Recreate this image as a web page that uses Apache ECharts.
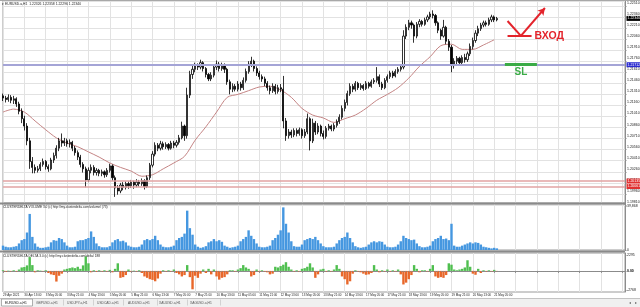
<!DOCTYPE html>
<html><head><meta charset="utf-8">
<script src="https://cdn.jsdelivr.net/npm/echarts@6/dist/echarts.min.js"></script>
<style>html,body{margin:0;padding:0;background:#fff}#c{width:640px;height:307px}</style>
</head><body><div id="c"></div>
<script>
// ---------- data (2-hour bars) ----------
const timeLabels = ['29 Apr 2021','30 Apr 13:00','3 May 05:00','3 May 21:00','4 May 13:00','5 May 05:00','5 May 21:00','6 May 13:00','7 May 05:00','7 May 21:00','10 May 13:00','11 May 05:00','11 May 21:00','12 May 13:00','13 May 05:00','13 May 21:00','14 May 13:00','17 May 05:00','17 May 21:00','18 May 13:00','19 May 05:00','19 May 21:00','20 May 13:00','21 May 05:00'];
const slotCount = 234;
const labelEvery = 8;

const openP = [
1.2129,1.2126,1.2124,1.2127,1.2123,1.2125,1.2118,1.2108,1.2098,1.2088,
1.2068,1.2040,1.2032,1.2028,1.2030,1.2036,1.2040,1.2033,1.2030,1.2042,
1.2048,1.2058,1.2068,1.2065,1.2068,1.2064,1.2066,1.2058,1.2052,1.2046,
1.2036,1.2030,1.2015,1.2028,1.2032,1.2025,1.2028,1.2024,1.2026,1.2022,
1.2028,1.2034,1.2018,1.2004,1.2000,1.2008,1.2005,1.2010,1.2007,1.2012,
1.2008,1.2012,1.2010,1.2014,1.2006,1.2018,1.2035,1.2050,1.2062,1.2058,
1.2064,1.2060,1.2063,1.2058,1.2065,1.2062,1.2066,1.2072,1.2088,1.2075,
1.2130,1.2158,1.2165,1.2170,1.2168,1.2174,1.2166,1.2158,1.2152,1.2157,
1.2168,1.2172,1.2166,1.2170,1.2165,1.2148,1.2138,1.2142,1.2138,1.2145,
1.2140,1.2150,1.2162,1.2172,1.2176,1.2166,1.2160,1.2155,1.2152,1.2146,
1.2140,1.2136,1.2142,1.2135,1.2140,1.2138,1.2095,1.2075,1.2080,1.2076,
1.2082,1.2078,1.2083,1.2075,1.2080,1.2098,1.2068,1.2092,1.2080,1.2088,
1.2078,1.2074,1.2085,1.2088,1.2084,1.2089,1.2094,1.2100,1.2112,1.2120,
1.2132,1.2142,1.2138,1.2146,1.2140,1.2143,1.2139,1.2146,1.2142,1.2148,
1.2150,1.2155,1.2145,1.2140,1.2150,1.2155,1.2160,1.2156,1.2162,1.2165,
1.2168,1.2210,1.2222,1.2228,1.2225,1.2210,1.2226,1.2230,1.2226,1.2232,
1.2236,1.2240,1.2238,1.2228,1.2218,1.2210,1.2222,1.2203,1.2195,1.2170,
1.2176,1.2180,1.2174,1.2181,1.2178,1.2186,1.2196,1.2204,1.2214,1.2220,
1.2225,1.2228,1.2226,1.2232,1.2236,1.2232];
const closeP = [
1.2126,1.2124,1.2127,1.2123,1.2125,1.2118,1.2108,1.2098,1.2088,1.2068,
1.2040,1.2032,1.2028,1.2030,1.2036,1.2040,1.2033,1.2030,1.2042,1.2048,
1.2058,1.2068,1.2065,1.2068,1.2064,1.2066,1.2058,1.2052,1.2046,1.2036,
1.2030,1.2015,1.2028,1.2032,1.2025,1.2028,1.2024,1.2026,1.2022,1.2028,
1.2034,1.2018,1.2004,1.2000,1.2008,1.2005,1.2010,1.2007,1.2012,1.2008,
1.2012,1.2010,1.2014,1.2006,1.2018,1.2035,1.2050,1.2062,1.2058,1.2064,
1.2060,1.2063,1.2058,1.2065,1.2062,1.2066,1.2072,1.2088,1.2075,1.2130,
1.2158,1.2165,1.2170,1.2168,1.2174,1.2166,1.2158,1.2152,1.2157,1.2168,
1.2172,1.2166,1.2170,1.2165,1.2148,1.2138,1.2142,1.2138,1.2145,1.2140,
1.2150,1.2162,1.2172,1.2176,1.2166,1.2160,1.2155,1.2152,1.2146,1.2140,
1.2136,1.2142,1.2135,1.2140,1.2138,1.2095,1.2075,1.2080,1.2076,1.2082,
1.2078,1.2083,1.2075,1.2080,1.2098,1.2068,1.2092,1.2080,1.2088,1.2078,
1.2074,1.2085,1.2088,1.2084,1.2089,1.2094,1.2100,1.2112,1.2120,1.2132,
1.2142,1.2138,1.2146,1.2140,1.2143,1.2139,1.2146,1.2142,1.2148,1.2150,
1.2155,1.2145,1.2140,1.2150,1.2155,1.2160,1.2156,1.2162,1.2165,1.2168,
1.2210,1.2222,1.2228,1.2225,1.2210,1.2226,1.2230,1.2226,1.2232,1.2236,
1.2240,1.2238,1.2228,1.2218,1.2210,1.2222,1.2203,1.2195,1.2170,1.2176,
1.2180,1.2174,1.2181,1.2178,1.2186,1.2196,1.2204,1.2214,1.2220,1.2225,
1.2228,1.2226,1.2232,1.2236,1.2232,1.2234];
const lowP = [
1.2122,1.2120,1.2121,1.2119,1.2118,1.2114,1.2104,1.2092,1.2082,1.2062,
1.2030,1.2024,1.2024,1.2025,1.2027,1.2033,1.2029,1.2026,1.2028,1.2038,
1.2044,1.2054,1.2060,1.2061,1.2060,1.2059,1.2054,1.2048,1.2042,1.2032,
1.2025,1.2005,1.2012,1.2024,1.2021,1.2021,1.2020,1.2020,1.2018,1.2019,
1.2025,1.2014,1.1992,1.1995,1.1997,1.2001,1.2002,1.2003,1.2004,1.2003,
1.2005,1.2006,1.2007,1.2002,1.2004,1.2015,1.2032,1.2047,1.2054,1.2055,
1.2056,1.2057,1.2055,1.2056,1.2058,1.2059,1.2063,1.2070,1.2068,1.2071,
1.2126,1.2152,1.2161,1.2164,1.2165,1.2162,1.2154,1.2149,1.2149,1.2154,
1.2164,1.2162,1.2163,1.2160,1.2144,1.2131,1.2134,1.2135,1.2135,1.2136,
1.2137,1.2147,1.2159,1.2168,1.2162,1.2156,1.2151,1.2148,1.2142,1.2136,
1.2131,1.2133,1.2131,1.2132,1.2134,1.2085,1.2068,1.2071,1.2072,1.2073,
1.2074,1.2075,1.2071,1.2072,1.2077,1.2055,1.2065,1.2076,1.2077,1.2074,
1.2070,1.2071,1.2082,1.2081,1.2081,1.2086,1.2091,1.2097,1.2108,1.2116,
1.2129,1.2134,1.2135,1.2137,1.2137,1.2136,1.2137,1.2139,1.2140,1.2145,
1.2147,1.2141,1.2137,1.2138,1.2147,1.2152,1.2153,1.2154,1.2159,1.2162,
1.2165,1.2206,1.2218,1.2220,1.2201,1.2207,1.2222,1.2223,1.2224,1.2229,
1.2233,1.2234,1.2224,1.2214,1.2205,1.2208,1.2199,1.2190,1.2161,1.2166,
1.2172,1.2171,1.2172,1.2174,1.2175,1.2183,1.2192,1.2201,1.2210,1.2217,
1.2222,1.2223,1.2224,1.2229,1.2229,1.2230];
const highP = [
1.2132,1.2129,1.2131,1.2130,1.2129,1.2127,1.2121,1.2112,1.2102,1.2092,
1.2072,1.2046,1.2036,1.2034,1.2039,1.2044,1.2042,1.2036,1.2045,1.2052,
1.2062,1.2072,1.2078,1.2072,1.2071,1.2070,1.2068,1.2061,1.2055,1.2049,
1.2039,1.2033,1.2032,1.2036,1.2035,1.2031,1.2030,1.2029,1.2028,1.2031,
1.2037,1.2036,1.2021,1.2008,1.2011,1.2012,1.2013,1.2013,1.2015,1.2014,
1.2016,1.2015,1.2017,1.2016,1.2021,1.2038,1.2054,1.2066,1.2065,1.2068,
1.2067,1.2066,1.2065,1.2068,1.2068,1.2069,1.2076,1.2094,1.2090,1.2140,
1.2163,1.2170,1.2174,1.2173,1.2178,1.2176,1.2168,1.2160,1.2161,1.2172,
1.2177,1.2175,1.2174,1.2173,1.2167,1.2151,1.2146,1.2145,1.2149,1.2148,
1.2154,1.2166,1.2176,1.2182,1.2178,1.2169,1.2163,1.2158,1.2155,1.2149,
1.2143,1.2146,1.2145,1.2144,1.2145,1.2156,1.2099,1.2084,1.2083,1.2085,
1.2085,1.2086,1.2085,1.2084,1.2105,1.2100,1.2098,1.2095,1.2092,1.2090,
1.2082,1.2088,1.2091,1.2090,1.2092,1.2097,1.2104,1.2116,1.2124,1.2136,
1.2146,1.2145,1.2149,1.2148,1.2146,1.2145,1.2149,1.2148,1.2151,1.2153,
1.2168,1.2158,1.2148,1.2153,1.2158,1.2163,1.2163,1.2165,1.2168,1.2171,
1.2218,1.2226,1.2232,1.2231,1.2227,1.2229,1.2233,1.2232,1.2235,1.2239,
1.2243,1.2245,1.2240,1.2230,1.2220,1.2232,1.2224,1.2206,1.2198,1.2180,
1.2183,1.2182,1.2184,1.2186,1.2189,1.2200,1.2208,1.2218,1.2224,1.2228,
1.2231,1.2231,1.2235,1.2239,1.2238,1.2236];

const maBars   = [0,4,8,12,16,20,24,28,32,36,40,44,48,52,56,60,64,68,72,76,80,84,88,92,96,100,104,108,112,116,120,124,128,132,136,140,144,148,152,156,160,164,168,172,176,180,184];
const maValues = [1.2107,1.2111,1.2107,1.2095,1.2083,1.2072,1.2065,1.2060,1.2053,1.2046,1.2038,1.2032,1.2027,1.2020,1.2022,1.2030,1.2038,1.2047,1.2069,1.2087,1.2107,1.2127,1.2131,1.2136,1.2141,1.2142,1.2137,1.2127,1.2112,1.2103,1.2099,1.2093,1.2098,1.2103,1.2112,1.2123,1.2131,1.2140,1.2153,1.2169,1.2182,1.2197,1.2199,1.2192,1.2192,1.2198,1.2205];

const volume = [
4000,3000,
2500,2500,3000,3500,6000,9000,10000,16000,33000,12000,6000,3000,
2000,2000,2500,3000,7000,9000,8500,11000,10000,7000,4000,2500,
2500,3000,8000,9000,9000,10000,11000,17000,12000,6000,3500,2500,
2500,2500,3500,7000,9000,10000,8000,8500,7000,4000,3000,2500,
2500,3000,5000,9000,10000,9000,10000,13000,9000,5000,3000,2500,
2500,3000,4000,9000,11000,12000,15000,36000,20000,14000,5000,3000,
2000,2500,3500,7000,8000,10000,8000,9000,7500,4000,3000,2000,
2500,3000,4000,8000,10000,12000,18000,13000,10000,6000,3000,2500,
2500,3000,4000,9000,11000,14000,18000,39000,24000,16000,8000,3500,
3000,3000,5000,9000,10000,11000,10000,12000,9000,6000,3500,2500,
2500,2500,3000,6000,9000,11000,12000,16000,11000,7000,3500,2500,
2000,2500,3000,5000,7000,8000,7000,8000,7500,5000,3000,2500,
2500,3000,5000,8000,13000,11000,10000,9000,9500,6000,3500,2500,
2500,3000,4000,8000,10000,11000,13000,10000,10500,9000,24000,4000,
3000,3000,4000,5000,6000,7000,6000,7000,6500,5000,3000,2500,
2000,1500,2000,1500];
const delta = [
100,-150,
50,-80,100,-100,200,500,560,800,2000,840,-200,100,
50,-50,100,-300,-500,-600,-1540,-700,-400,200,300,400,
500,400,600,300,800,2100,1100,-200,100,-150,100,-100,
100,-100,150,-200,300,1100,-1000,-900,-600,200,-100,50,
-100,100,-300,-800,-1000,-1200,-1300,-1500,-1100,-400,100,-100,
100,-100,200,-300,-500,-800,-600,840,-900,-2660,-700,-1000,
-400,200,-300,300,-500,200,-800,-1260,-1000,-900,-500,100,
100,-100,200,400,840,500,300,-800,-600,200,-100,100,
-100,-200,-500,-400,600,500,700,900,1260,600,200,-100,
100,-100,300,400,600,1100,500,-1000,-500,200,300,-100,
100,-100,200,840,300,-800,-1200,-1960,-1500,-400,100,-100,
-200,-400,-560,-500,-300,840,200,-200,100,-100,200,-100,
100,-100,200,-500,-1960,-1700,-1200,-600,840,300,-200,100,
100,-100,300,840,-800,-1000,-900,-1000,-600,1100,900,200,
100,200,300,500,1540,600,-400,-560,300,-300,100,-100,
100,-100,150,-50];

const priceMin = 1.1981, priceMax = 1.22576, priceStep = 0.0015;
const volumeMax = 43000, volumeTicks = [0, 39868];
const deltaMin = -3050, deltaMax = 2590, deltaTicks = [-2768, 0, 2295];
const levelBlue = 1.21712;
const levelRed = [1.20135, 1.20061];
const entryArrow = [[189, 1.22305], [194, 1.22102], [203, 1.22481]];
const entryBase = [[189, 1.22102], [198, 1.22102]];
const slLine = [[188, 1.21712], [200, 1.21712]];
const entryTextAt = [198, 1.22102];
const slTextAt = [194, 1.21613];
const tabs = ['EURUSD.a,H1','GBPUSD.a,H1','USDJPY.a,H1','USDCAD.a,H1','AUDUSD.a,H1','XAUUSD.a,H1','XAGUSD.a,H1'];
const headerText = '\u25BE EURUSD.a,H1  1.22326 1.22358 1.22296 1.22340';
const volTitle = 'CLUSTERDELTA VOLUME 3.0 (c) http://my.clusterdelta.com/volume/ (73)';
const deltaTitle = 'CLUSTERDELTA DELTA 3.0 (c) http://my.clusterdelta.com/delta/ 188';

// ---------- chart ----------
const FONT = '"Liberation Sans", Arial, sans-serif';
const RED = '#e3232b', GREEN = '#3aab46';
const cats = Array.from({length: slotCount}, (_, i) => String(i));
const candleData = openP.map((o, i) => [o, closeP[i], lowP[i], highP[i]]);
const maData = maBars.map((b, i) => [b, maValues[i]]);
const lastPrice = closeP[closeP.length - 1];

function xAx(g, labels) {
  return {
    type: 'category', gridIndex: g, data: cats, boundaryGap: false,
    axisLine: {show: labels, lineStyle: {color: '#8c8c8c', width: 1}},
    axisTick: {show: labels, interval: labelEvery - 1, length: 2, lineStyle: {color: '#8c8c8c'}},
    axisLabel: {show: labels, interval: labelEvery - 1, fontSize: 3, color: '#222', margin: 1.5,
      align: 'left', fontFamily: FONT,
      formatter: (v, i) => (i % labelEvery === 0 && timeLabels[i / labelEvery]) || ''},
    splitLine: {show: true, interval: labelEvery - 1, lineStyle: {color: '#e2e2e2', width: 1}}
  };
}
const boxLabel = (bg, txt) => ({show: true, position: 'end', distance: 1.5, formatter: txt,
  backgroundColor: bg, color: '#fff', fontSize: 3.5, fontFamily: FONT, padding: [0.6, 1, 0.4, 1]});

const option = {
  animation: false,
  textStyle: {fontFamily: FONT},
  grid: [
    {left: 3, right: 15, top: 1, height: 204, show: true, borderColor: '#9a9a9a', borderWidth: 1, outerBoundsMode: 'none'},
    {left: 3, right: 15, top: 203, height: 47, show: true, borderColor: '#9a9a9a', borderWidth: 1, outerBoundsMode: 'none'},
    {left: 3, right: 15, top: 253, height: 39, show: true, borderColor: '#9a9a9a', borderWidth: 1, outerBoundsMode: 'none'}
  ],
  xAxis: [xAx(0, false), xAx(1, false), xAx(2, true)],
  yAxis: [
    {type: 'value', gridIndex: 0, position: 'right', min: priceMin, max: priceMax, interval: priceStep,
      axisLine: {show: true, lineStyle: {color: '#8c8c8c'}},
      axisTick: {show: true, length: 1.5, lineStyle: {color: '#8c8c8c'}},
      axisLabel: {fontSize: 3.5, color: '#222', margin: 2, verticalAlign: 'bottom', padding: [0, 0, 1, 0],
        showMaxLabel: false, fontFamily: FONT, formatter: v => v.toFixed(5)},
      splitLine: {show: true, lineStyle: {color: '#e2e2e2', width: 1}}},
    {type: 'value', gridIndex: 1, position: 'right', min: 0, max: volumeMax,
      axisLine: {show: true, lineStyle: {color: '#8c8c8c'}},
      axisTick: {show: true, length: 1.5, customValues: volumeTicks},
      axisLabel: {fontSize: 3.5, color: '#222', margin: 2, fontFamily: FONT, customValues: volumeTicks},
      splitLine: {show: false}},
    {type: 'value', gridIndex: 2, position: 'right', min: deltaMin, max: deltaMax,
      axisLine: {show: true, lineStyle: {color: '#8c8c8c'}},
      axisTick: {show: true, length: 1.5, customValues: deltaTicks},
      axisLabel: {fontSize: 3.5, color: '#222', margin: 2, fontFamily: FONT, customValues: deltaTicks,
        formatter: v => v === 0 ? '{b|0.00}' : String(v), rich: {b: {fontSize: 3.5, fontWeight: 'bold', color: '#000'}}},
      splitLine: {show: false}}
  ],
  series: [
    {type: 'candlestick', xAxisIndex: 0, yAxisIndex: 0, data: candleData, barWidth: '62%',
      itemStyle: {color: '#ffffff', color0: '#000000', borderColor: '#000000', borderColor0: '#000000', borderWidth: 0.8},
      markLine: {silent: true, animation: false, precision: 5, symbol: ['none', 'none'],
        data: [
          {yAxis: levelBlue, lineStyle: {color: '#a4a4d6', width: 2, type: 'solid'}, label: boxLabel('#2b2bd0', levelBlue.toFixed(5))},
          {yAxis: levelRed[0], lineStyle: {color: '#e2a3a3', width: 1.5, type: 'solid'}, label: boxLabel('#e03131', levelRed[0].toFixed(5))},
          {yAxis: levelRed[1], lineStyle: {color: '#e2a3a3', width: 1.5, type: 'solid'}, label: boxLabel('#e03131', levelRed[1].toFixed(5))},
          {yAxis: lastPrice, lineStyle: {color: 'rgba(0,0,0,0)', width: 1}, label: boxLabel('#000000', lastPrice.toFixed(5))},
          [{coord: entryArrow[0], symbol: 'none', lineStyle: {color: RED, width: 2, type: 'solid'}, label: {show: false}}, {coord: entryArrow[1], symbol: 'none'}],
          [{coord: entryArrow[1], symbol: 'none', lineStyle: {color: RED, width: 2, type: 'solid'}, label: {show: false}}, {coord: entryArrow[2], symbol: 'arrow', symbolSize: [6, 7]}],
          [{coord: entryBase[0], symbol: 'none', lineStyle: {color: RED, width: 2, type: 'solid'}, label: {show: false}}, {coord: entryBase[1], symbol: 'none'}],
          [{coord: slLine[0], symbol: 'none', lineStyle: {color: GREEN, width: 3, type: 'solid'}, label: {show: false}}, {coord: slLine[1], symbol: 'none'}]
        ]},
      markPoint: {silent: true, animation: false, symbol: 'circle', symbolSize: 0.1,
        itemStyle: {color: 'rgba(0,0,0,0)'},
        data: [
          {coord: entryTextAt, label: {show: true, position: 'right', distance: 3, formatter: 'ВХОД', color: RED, fontSize: 10.5, fontWeight: 'bold', fontFamily: FONT}},
          {coord: slTextAt, label: {show: true, position: 'inside', formatter: 'SL', color: GREEN, fontSize: 10, fontWeight: 'bold', fontFamily: FONT}}
        ]}
    },
    {type: 'line', xAxisIndex: 0, yAxisIndex: 0, data: maData, showSymbol: false, smooth: 0.3,
      lineStyle: {color: '#c48484', width: 1}, z: 1},
    {type: 'bar', xAxisIndex: 1, yAxisIndex: 1, data: volume, barWidth: '90%',
      itemStyle: {color: '#4597e0'}},
    {type: 'bar', xAxisIndex: 2, yAxisIndex: 2, data: delta, barWidth: '90%',
      itemStyle: {color: p => p.value >= 0 ? '#4fbf4f' : '#e8672a'},
      markLine: {silent: true, animation: false, symbol: ['none', 'none'], label: {show: false},
        data: [{yAxis: 0}], lineStyle: {color: '#8a8a8a', type: 'dotted', width: 1}}}
  ],
  graphic: [
    {type: 'rect', shape: {x: 0, y: 0, width: 640, height: 1}, style: {fill: '#a8a8a8'}, z: 100},
    {type: 'rect', shape: {x: 0, y: 202.5, width: 625, height: 2}, style: {fill: '#8a8a8a'}, z: 100},
    {type: 'rect', shape: {x: 0, y: 250.5, width: 625, height: 2}, style: {fill: '#8a8a8a'}, z: 100},
    {type: 'text', x: 2, y: 4, z: 100, style: {text: headerText, fontSize: 3.4, fontFamily: FONT, fill: '#222', verticalAlign: 'middle'}},
    {type: 'text', x: 3, y: 207.5, z: 100, style: {text: volTitle, fontSize: 3.2, fontFamily: FONT, fill: '#222', verticalAlign: 'middle'}},
    {type: 'text', x: 3, y: 256.5, z: 100, style: {text: deltaTitle, fontSize: 3.2, fontFamily: FONT, fill: '#222', verticalAlign: 'middle'}},
    {type: 'rect', shape: {x: 0, y: 298, width: 640, height: 9}, style: {fill: '#f0f0f0'}, z: 90},
    {type: 'rect', shape: {x: 0, y: 298, width: 640, height: 0.8}, style: {fill: '#b4b4b4'}, z: 91},
    {type: 'rect', shape: {x: 1.5, y: 299, width: 31, height: 7}, style: {fill: '#ffffff', stroke: '#9a9a9a', lineWidth: 0.8}, z: 92}
  ].concat(tabs.map((t, i) => ({type: 'text', x: [5, 36, 67, 97, 128, 159, 190][i], y: 302.6, z: 95,
      style: {text: t, fontSize: 3.3, fontFamily: FONT, fill: i === 0 ? '#111' : '#555', verticalAlign: 'middle'}})))
   .concat([63, 93, 123, 157, 187, 220].map(x => ({type: 'rect', shape: {x: x, y: 299.5, width: 0.7, height: 6}, style: {fill: '#c4c4c4'}, z: 95})))
   .concat([
    {type: 'text', x: 629, y: 302.6, z: 95, style: {text: '\u25C2', fontSize: 4, fill: '#666', verticalAlign: 'middle'}},
    {type: 'text', x: 635, y: 302.6, z: 95, style: {text: '\u25B8', fontSize: 4, fill: '#666', verticalAlign: 'middle'}}
  ])
};

const chart = echarts.init(document.getElementById('c'));
chart.setOption(option);
</script>
</body></html>
